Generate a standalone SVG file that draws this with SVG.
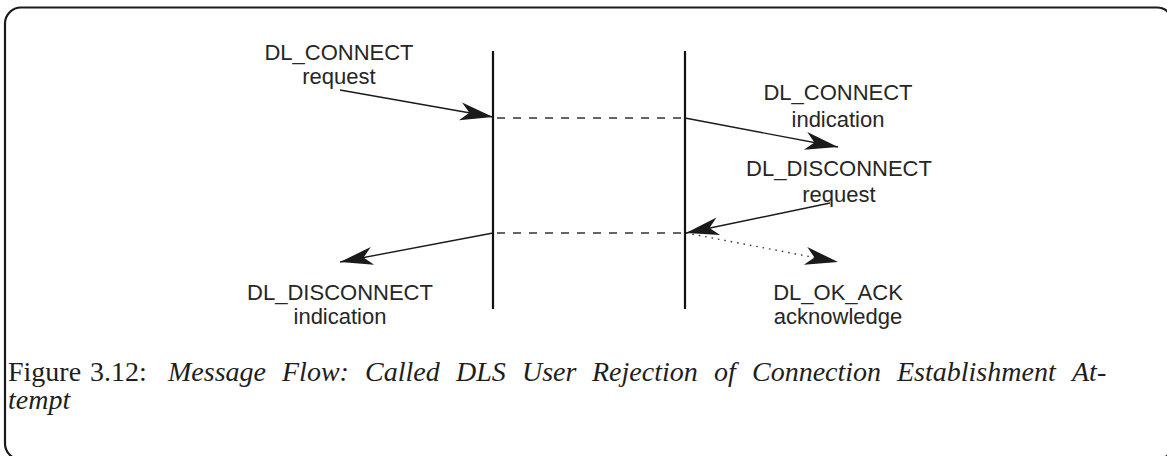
<svg xmlns="http://www.w3.org/2000/svg" width="1167" height="456" viewBox="0 0 1167 456">
  <defs>
    <marker id="head" markerUnits="userSpaceOnUse" markerWidth="40" markerHeight="24" viewBox="-34 -12 40 24" refX="0" refY="0" orient="auto">
      <path d="M0,0 L-33,-9 L-24,0 L-33,9 Z" fill="#1a1a1a"/>
    </marker>
  </defs>
  <style>
    .frame { fill: none; stroke: #1a1a1a; stroke-width: 2.2; }
    .life { stroke: #111; stroke-width: 2.2; }
    .dash { stroke: #333; stroke-width: 1.3; stroke-dasharray: 8 8; }
    .msg { stroke: #1a1a1a; stroke-width: 1.4; fill: none; marker-end: url(#head); }
    .dot { stroke: #333; stroke-width: 1.4; fill: none; stroke-dasharray: 1.5 5; marker-end: url(#head); }
    .lbl { font-family: "Liberation Sans", Arial, sans-serif; font-size: 22px; fill: #262626; text-anchor: middle; }
    .cap { font-family: "Liberation Serif", "Times New Roman", serif; font-size: 28px; fill: #1e1e1e; }
    .cap .it { font-style: italic; }
  </style>

  <!-- page frame with rounded corners -->
  <rect class="frame" x="5" y="7.5" width="1168" height="452" rx="16" ry="16"/>

  <!-- lifelines -->
  <g id="provider-left">
    <line class="life" x1="493" y1="51" x2="493" y2="309"/>
  </g>
  <g id="provider-right">
    <line class="life" x1="685" y1="51" x2="685" y2="309"/>
  </g>

  <!-- connectors -->
  <g id="connectors">
    <line class="dash" x1="497" y1="118" x2="685" y2="118"/>
    <line class="dash" x1="497" y1="233" x2="685" y2="233"/>
    <path class="msg" d="M340,90 L493,117"/>
    <path class="msg" d="M685,118 L838,147"/>
    <path class="msg" d="M830,203 L686,233"/>
    <path class="msg" d="M493,233 L340,262"/>
    <path class="dot" d="M686,233 L838,262"/>
  </g>

  <!-- primitive labels -->
  <g id="connect-request">
    <text class="lbl" x="339" y="60">DL_CONNECT</text>
    <text class="lbl" x="339" y="84">request</text>
  </g>
  <g id="connect-indication">
    <text class="lbl" x="838" y="100">DL_CONNECT</text>
    <text class="lbl" x="838" y="127">indication</text>
  </g>
  <g id="disconnect-request">
    <text class="lbl" x="839" y="176">DL_DISCONNECT</text>
    <text class="lbl" x="839" y="202">request</text>
  </g>
  <g id="disconnect-indication">
    <text class="lbl" x="340" y="300">DL_DISCONNECT</text>
    <text class="lbl" x="340" y="324">indication</text>
  </g>
  <g id="ok-ack">
    <text class="lbl" x="838" y="300">DL_OK_ACK</text>
    <text class="lbl" x="838" y="324">acknowledge</text>
  </g>

  <!-- caption, justified word by word -->
  <g id="caption">
    <text class="cap" y="381">
      <tspan x="8">Figure</tspan>
      <tspan x="90">3.12:</tspan>
      <tspan class="it" x="168">Message</tspan>
      <tspan class="it" x="282">Flow:</tspan>
      <tspan class="it" x="365">Called</tspan>
      <tspan class="it" x="456">DLS</tspan>
      <tspan class="it" x="522">User</tspan>
      <tspan class="it" x="592">Rejection</tspan>
      <tspan class="it" x="714">of</tspan>
      <tspan class="it" x="752">Connection</tspan>
      <tspan class="it" x="897">Establishment</tspan>
      <tspan class="it" x="1072">At-</tspan>
    </text>
    <text class="cap" y="409"><tspan class="it" x="8">tempt</tspan></text>
  </g>
</svg>
